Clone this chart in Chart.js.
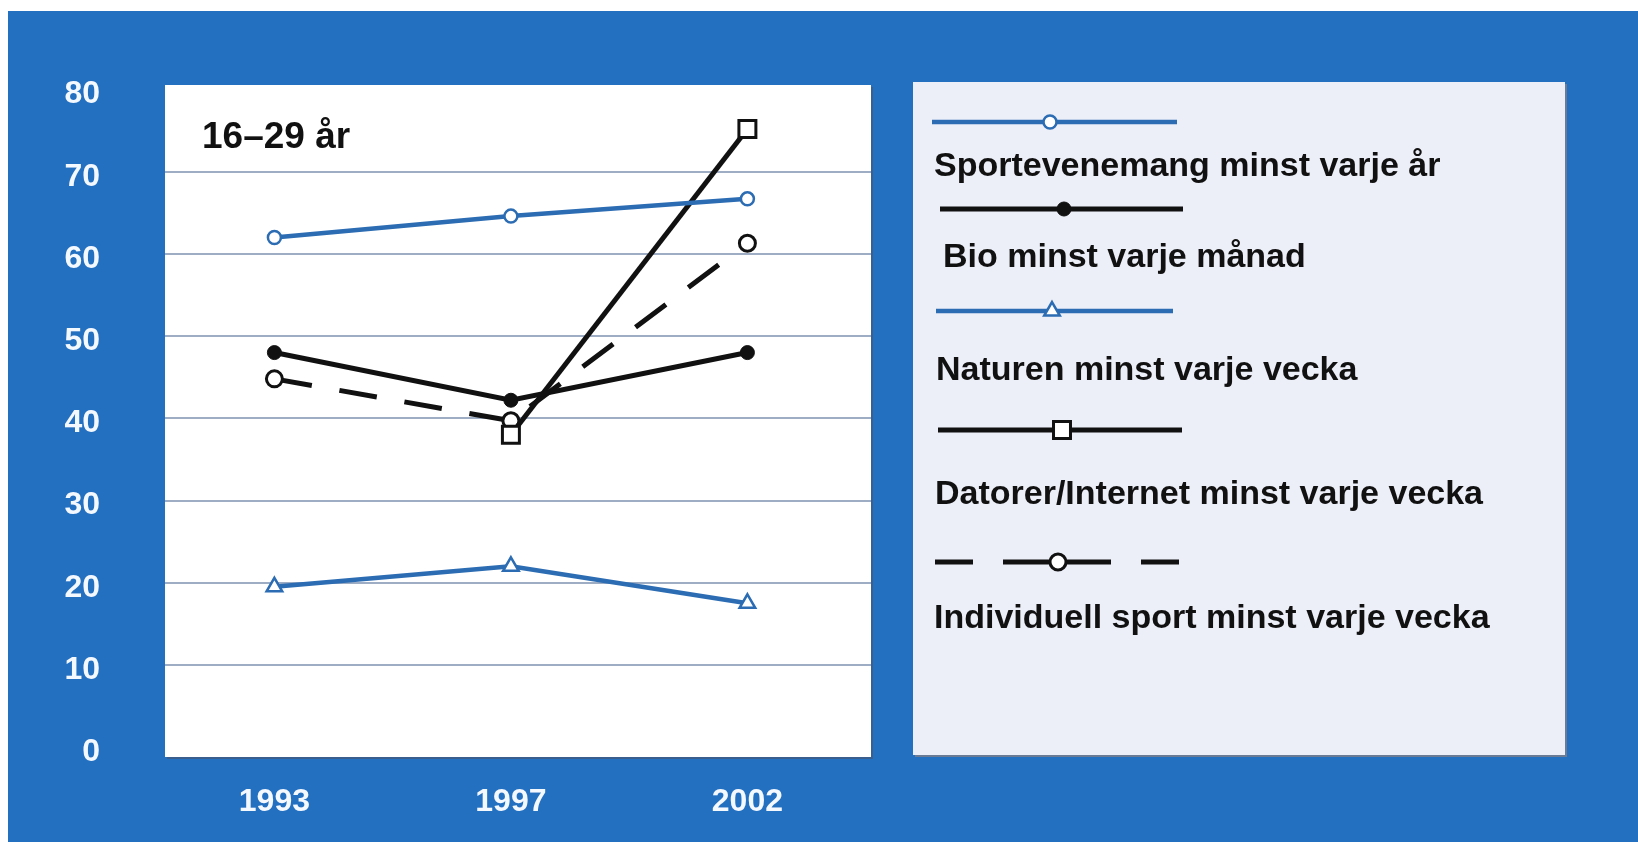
<!DOCTYPE html>
<html>
<head>
<meta charset="utf-8">
<script src="https://cdn.jsdelivr.net/npm/chart.js@4"></script>
<style>
  html, body { margin: 0; padding: 0; background: #fff; }
  #wrap { position: relative; width: 1638px; height: 842px; }
</style>
</head>
<body>
<div id="wrap"><canvas id="line-chart" width="1638" height="842"></canvas></div>
<script>
var years = ['1993', '1997', '2002'];
var yTicks = [0, 10, 20, 30, 40, 50, 60, 70, 80];

var sportevenemang = [62, 64.6, 66.7];
var bio = [48, 42.2, 48];
var naturen = [19.5, 22, 17.5];
var datorer = [null, 38, 75.2];
var individuell = [44.8, 39.7, 61.3];

var seriesNames = [
    'Sportevenemang minst varje år',
    'Bio minst varje månad',
    'Naturen minst varje vecka',
    'Datorer/Internet minst varje vecka',
    'Individuell sport minst varje vecka'
];
var panelTitle = '16–29 år';

var BLUE = '#2b6cb3';
var BLACK = '#111111';
var FONT = '"Liberation Sans", Arial, Helvetica, sans-serif';

function toPoints(arr) {
    return arr.map(function (v, i) { return {x: i, y: v}; });
}

// legend item placement (canvas px)
var legendRows = [
    {lineY: 122, x1: 932, x2: 1177, mx: 1050, tx: 934, ty: 176},
    {lineY: 209, x1: 940, x2: 1183, mx: 1064, tx: 943, ty: 267},
    {lineY: 311, x1: 936, x2: 1173, mx: 1052, tx: 936, ty: 380},
    {lineY: 430, x1: 938, x2: 1182, mx: 1062, tx: 935, ty: 504},
    {lineY: 562, x1: 935, x2: 1182, mx: 1058, tx: 934, ty: 628}
];

var backdrop = {
    id: 'backdrop',
    beforeDraw: function (chart) {
        var ctx = chart.ctx, a = chart.chartArea;
        ctx.save();
        ctx.fillStyle = '#ffffff';
        ctx.fillRect(0, 0, chart.width, chart.height);
        ctx.fillStyle = '#236fc0';
        ctx.fillRect(8, 11, chart.width - 8, chart.height - 11);
        // plot panel with a little shadow
        ctx.fillStyle = '#3a5f8f';
        ctx.fillRect(a.left + 2, a.top + 2, a.right - a.left, a.bottom - a.top);
        ctx.fillStyle = '#ffffff';
        ctx.fillRect(a.left, a.top, a.right - a.left, a.bottom - a.top);
        ctx.restore();
    },
    afterDraw: function (chart) {
        var ctx = chart.ctx;
        ctx.save();
        ctx.fillStyle = '#111111';
        ctx.font = 'bold 37px ' + FONT;
        ctx.textBaseline = 'alphabetic';
        ctx.fillText(panelTitle, 202, 148);

        // legend panel
        ctx.fillStyle = '#6a7b96';
        ctx.fillRect(915, 84, 652, 673);
        ctx.fillStyle = '#eceef8';
        ctx.fillRect(913, 82, 652, 673);

        chart.data.datasets.forEach(function (ds, i) {
            var r = legendRows[i];
            ctx.save();
            ctx.strokeStyle = ds.borderColor;
            ctx.lineWidth = ds.borderWidth;
            ctx.lineCap = 'butt';
            if (ds.legendDash) ctx.setLineDash(ds.legendDash);
            ctx.beginPath();
            ctx.moveTo(r.x1, r.lineY);
            ctx.lineTo(r.x2, r.lineY);
            ctx.stroke();
            ctx.restore();
            ctx.save();
            ctx.fillStyle = ds.pointBackgroundColor;
            ctx.strokeStyle = ds.borderColor;
            ctx.lineWidth = ds.pointBorderWidth;
            Chart.helpers.drawPoint(ctx, {pointStyle: ds.pointStyle, radius: ds.pointRadius, rotation: 0, borderWidth: ds.pointBorderWidth}, r.mx, r.lineY);
            ctx.restore();
            ctx.fillStyle = '#111111';
            ctx.font = 'bold 34px ' + FONT;
            ctx.fillText(ds.label, r.tx, r.ty);
        });
        ctx.restore();
    }
};

var datasets = [
    {label: seriesNames[0], data: toPoints(sportevenemang), borderColor: BLUE, borderWidth: 4.5,
     pointStyle: 'circle', pointRadius: 6.5, pointBorderWidth: 2.5, pointBackgroundColor: '#ffffff'},
    {label: seriesNames[1], data: toPoints(bio), borderColor: BLACK, borderWidth: 5,
     pointStyle: 'circle', pointRadius: 7, pointBorderWidth: 1, pointBackgroundColor: BLACK},
    {label: seriesNames[2], data: toPoints(naturen), borderColor: BLUE, borderWidth: 4.5,
     pointStyle: 'triangle', pointRadius: 9, pointBorderWidth: 2.5, pointBackgroundColor: '#ffffff'},
    {label: seriesNames[3], data: toPoints(datorer), borderColor: BLACK, borderWidth: 5,
     pointStyle: 'rect', pointRadius: 12, pointBorderWidth: 3, pointBackgroundColor: '#ffffff'},
    {label: seriesNames[4], data: toPoints(individuell), borderColor: BLACK, borderWidth: 5,
     borderDash: [38, 28], legendDash: [38, 30, 108, 30],
     pointStyle: 'circle', pointRadius: 8, pointBorderWidth: 3, pointBackgroundColor: '#ffffff'}
];
datasets.forEach(function (ds) {
    ds.pointBorderColor = ds.borderColor;
    ds.tension = 0;
    ds.fill = false;
});

var chart = new Chart(document.getElementById('line-chart'), {
    type: 'line',
    data: {datasets: datasets},
    plugins: [backdrop],
    options: {
        responsive: false,
        animation: false,
        events: [],
        layout: {padding: {left: 0, right: 767, top: 85, bottom: 0}},
        plugins: {legend: {display: false}, tooltip: {enabled: false}},
        scales: {
            x: {
                type: 'linear',
                min: -0.4626,
                max: 2.5226,
                afterBuildTicks: function (scale) {
                    scale.ticks = years.map(function (y, i) { return {value: i}; });
                },
                afterFit: function (scale) { scale.height = 85; },
                grid: {display: false, drawTicks: false},
                border: {display: false},
                ticks: {
                    padding: 26,
                    color: '#f4f8ff',
                    font: {family: FONT, size: 32, weight: 'bold'},
                    callback: function (v) { return years[v]; }
                }
            },
            y: {
                min: -1.2,
                max: 80.55,
                afterBuildTicks: function (scale) {
                    scale.ticks = yTicks.map(function (v) { return {value: v}; });
                },
                afterFit: function (scale) { scale.width = 165; },
                grid: {
                    drawTicks: false,
                    lineWidth: 2,
                    color: function (c) {
                        var v = c.tick && c.tick.value;
                        return (v === 0 || v === 80) ? 'rgba(0,0,0,0)' : '#9eadc4';
                    }
                },
                border: {display: false},
                ticks: {
                    padding: 65,
                    labelOffset: 5,
                    color: '#f4f8ff',
                    font: {family: FONT, size: 32, weight: 'bold'}
                }
            }
        }
    }
});
</script>
</body>
</html>
